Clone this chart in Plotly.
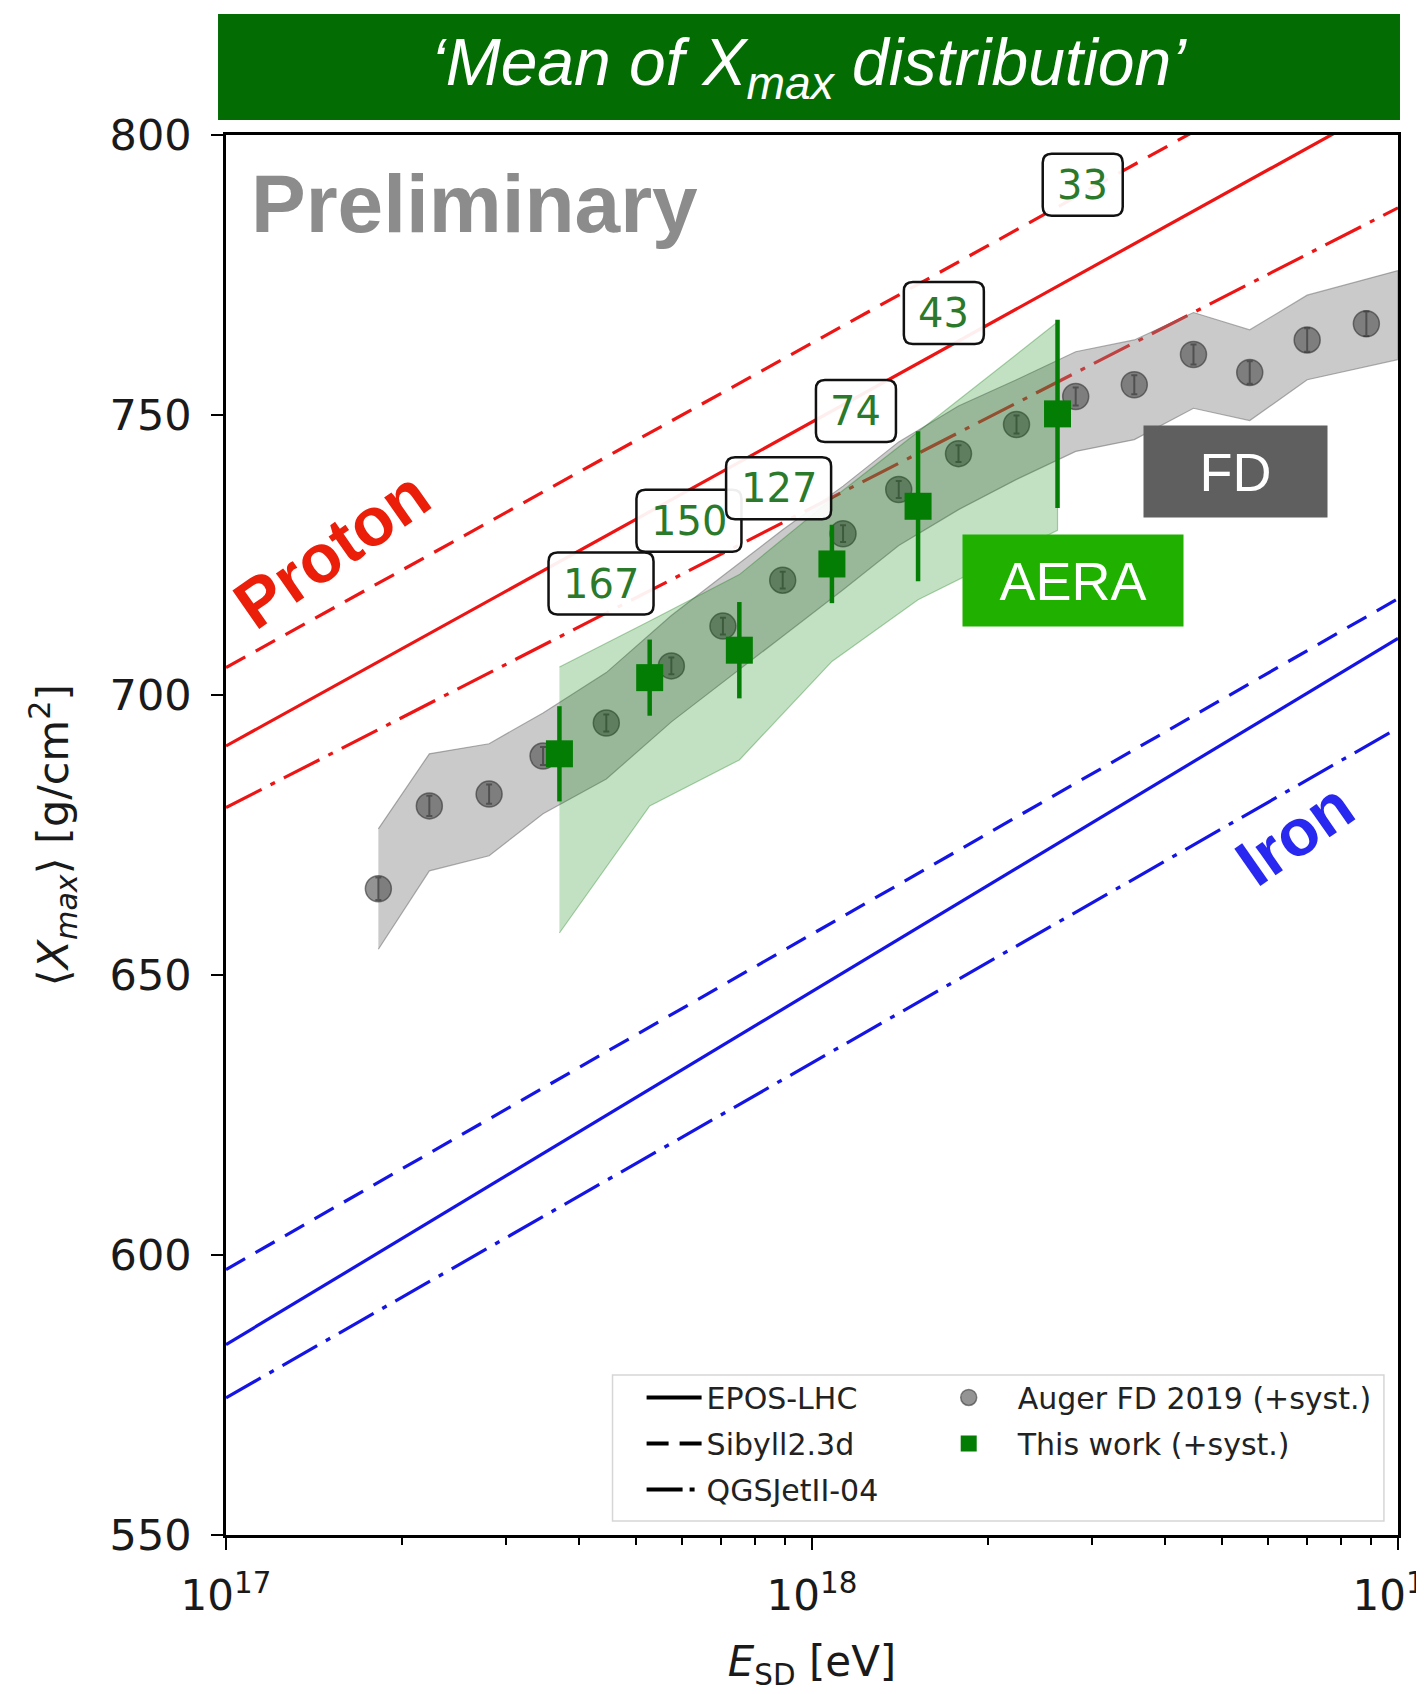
import numpy as np
import plotly.graph_objects as go

# ---------------- data ----------------
# Auger FD 2019 <Xmax>
fd_lgE = [17.26, 17.347, 17.449, 17.541, 17.649, 17.760, 17.848, 17.950, 18.053,
          18.148, 18.250, 18.349, 18.450, 18.550, 18.651, 18.747, 18.845, 18.946]
fd_xmax = [665.4, 680.2, 682.3, 689.1, 695.0, 705.2, 712.3, 720.5, 728.8,
           736.7, 743.1, 748.3, 753.3, 755.4, 760.8, 757.6, 763.4, 766.3]
fd_stat = [2.0, 1.8, 1.7, 1.6, 1.5, 1.5, 1.5, 1.5, 1.5,
           1.5, 1.5, 1.6, 1.6, 1.7, 1.8, 2.0, 2.1, 2.2]
# FD systematic band edges (last edge continues to the axis border)
fd_band_lgE = [17.26, 17.347, 17.449, 17.541, 17.649, 17.760, 17.848, 17.950, 18.053,
               18.148, 18.250, 18.349, 18.450, 18.550, 18.651, 18.747, 18.845, 18.946, 19.0]
fd_band_hi = [676.1, 689.5, 691.3, 696.8, 704.0, 714.2, 721.3, 729.5, 737.3,
              745.2, 751.6, 756.3, 761.3, 763.4, 768.3, 765.2, 771.4, 774.3, 775.8]
fd_band_lo = [654.6, 668.6, 671.3, 678.8, 685.0, 695.2, 702.3, 710.5, 718.8,
              726.7, 733.1, 738.5, 743.5, 745.6, 751.2, 749.0, 756.3, 758.6, 759.9]

# This work (AERA)
aera_lgE = [17.569, 17.723, 17.876, 18.034, 18.181, 18.419]
aera_xmax = [689.5, 703.1, 708.0, 723.4, 733.7, 750.2]
aera_stat = [8.5, 6.8, 8.6, 7.0, 13.4, 16.8]
aera_sys_hi = [705.0, 713.2, 721.5, 735.0, 747.0, 766.6]
aera_sys_lo = [657.5, 680.2, 688.4, 706.0, 717.0, 729.4]
aera_nevents = [167, 150, 127, 74, 43, 33]

# Model predictions (straight lines between these energies)
model_lgE = [17.0, 19.0]
p_epos = [690.9, 806.6]
p_sibyll = [704.9, 820.8]
p_qgsjet = [679.9, 787.0]
fe_epos = [584.0, 710.1]
fe_sibyll = [597.4, 717.2]
fe_qgsjet = [574.5, 694.1]

model_names = ["EPOS-LHC", "Sibyll2.3d", "QGSJetII-04"]

# axis ticks
x_tick_lgE = [17, 18, 19]
x_tick_text = ["10<sup>17</sup>", "10<sup>18</sup>", "10<sup>19</sup>"]
x_minor_lgE = [17 + np.log10(m) for m in range(2, 10)] + [18 + np.log10(m) for m in range(2, 10)]
y_ticks = [550, 600, 650, 700, 750, 800]

# positions of the event-count boxes (layout, data coords: log10 E, Xmax)
box_lgE = [17.640, 17.790, 17.943, 18.075, 18.225, 18.462]
box_y = [719.9, 731.1, 736.9, 750.7, 768.2, 791.1]

# ---------------- styles ----------------
RED = "#ee1414"
BLUE = "#1414e6"
DASHES = ["solid", "22px,12px", "40px,10px,5px,10px"]
LEG_DASHES = ["solid", "22px,11px", "36px,7px,5px,7px"]
TICKFONT = dict(family="DejaVu Sans", size=43, color="#1a1a1a")


def E(lg):
    return [10 ** v for v in lg]


def rounded_box(hw, hh, r):
    return (f"M {-hw + r},{-hh} L {hw - r},{-hh} Q {hw},{-hh} {hw},{-hh + r} "
            f"L {hw},{hh - r} Q {hw},{hh} {hw - r},{hh} L {-hw + r},{hh} "
            f"Q {-hw},{hh} {-hw},{hh - r} L {-hw},{-hh + r} Q {-hw},{-hh} {-hw + r},{-hh} Z")


fig = go.Figure()

# model lines
for ys, col in [((p_epos, p_sibyll, p_qgsjet), RED), ((fe_epos, fe_sibyll, fe_qgsjet), BLUE)]:
    for y, dash in zip(ys, DASHES):
        fig.add_trace(go.Scatter(x=E(model_lgE), y=y, mode="lines",
                                 line=dict(color=col, width=3.2, dash=dash),
                                 showlegend=False, hoverinfo="skip"))

# FD band
fig.add_trace(go.Scatter(x=E(fd_band_lgE) + E(fd_band_lgE[::-1]),
                         y=fd_band_hi + fd_band_lo[::-1],
                         mode="lines", fill="toself",
                         fillcolor="rgba(128,128,128,0.42)",
                         line=dict(color="rgba(110,110,110,0.55)", width=1.2),
                         showlegend=False, hoverinfo="skip"))
# FD points
fig.add_trace(go.Scatter(x=E(fd_lgE), y=fd_xmax, mode="markers",
                         marker=dict(symbol="circle", size=26, color="rgba(75,75,75,0.6)",
                                     line=dict(color="rgba(50,50,50,0.6)", width=1.5)),
                         error_y=dict(type="data", array=fd_stat, visible=True,
                                      color="rgba(40,40,40,0.7)", thickness=2, width=3),
                         showlegend=False))

# AERA band
fig.add_trace(go.Scatter(x=E(aera_lgE) + E(aera_lgE[::-1]),
                         y=aera_sys_hi + aera_sys_lo[::-1],
                         mode="lines", fill="toself",
                         fillcolor="rgba(0,128,0,0.24)",
                         line=dict(color="rgba(0,110,0,0.3)", width=1.2),
                         showlegend=False, hoverinfo="skip"))
# AERA points
fig.add_trace(go.Scatter(x=E(aera_lgE), y=aera_xmax, mode="markers",
                         marker=dict(symbol="square", size=27, color="#037d03"),
                         error_y=dict(type="data", array=aera_stat, visible=True,
                                      color="#037d03", thickness=4.5, width=0),
                         showlegend=False))

# legend entries (black line styles + markers)
for name, dash in zip(model_names, LEG_DASHES):
    fig.add_trace(go.Scatter(x=[None], y=[None], mode="lines", name=name,
                             line=dict(color="black", width=4, dash=dash),
                             legend="legend", legendgroup=name))
fig.add_trace(go.Scatter(x=[None], y=[None], mode="markers", name="Auger FD 2019 (+syst.)",
                         marker=dict(symbol="circle", size=22, color="rgba(90,90,90,0.65)",
                                     line=dict(color="rgba(60,60,60,0.6)", width=1.5)),
                         legend="legend2", legendgroup="fd"))
fig.add_trace(go.Scatter(x=[None], y=[None], mode="markers", name="This work (+syst.)",
                         marker=dict(symbol="square", size=22, color="#037d03"),
                         legend="legend2", legendgroup="aera"))

annotations = []
shapes = []
# event count boxes (rounded frames as pixel-sized shapes, numbers as annotations)
for n, bx, by in zip(aera_nevents, box_lgE, box_y):
    txt = str(n)
    hw = (25 * len(txt) + 30) / 2
    shapes.append(dict(type="path", xref="x", yref="y",
                       xsizemode="pixel", ysizemode="pixel",
                       xanchor=10 ** bx, yanchor=by,
                       path=rounded_box(hw, 31, 9),
                       fillcolor="rgba(255,255,255,0.93)",
                       line=dict(color="#111111", width=2.5), layer="above"))
    annotations.append(dict(x=bx, y=by, xref="x", yref="y", text=txt, showarrow=False,
                            xanchor="center", yanchor="middle",
                            font=dict(family="DejaVu Sans", size=40, color="#2b7a2b")))

# title banner text
annotations.append(dict(x=0.4974, y=1.0486, xref="paper", yref="paper", showarrow=False,
                        text="<i>‘Mean of X<sub>max</sub> distribution’</i>",
                        xanchor="center", yanchor="middle",
                        font=dict(family="Liberation Sans", size=66, color="white")))
# Preliminary
annotations.append(dict(x=0.02, y=0.951, xref="paper", yref="paper", showarrow=False,
                        text="<b>Preliminary</b>", xanchor="left", yanchor="middle",
                        font=dict(family="Liberation Sans", size=82, color="#8c8c8c")))
# AERA / FD tags
annotations.append(dict(x=0.7225, y=0.6818, xref="paper", yref="paper", showarrow=False,
                        text="AERA", xanchor="center", yanchor="middle",
                        bgcolor="#1fb000", width=220, height=91, borderpad=0,
                        font=dict(family="Liberation Sans", size=54, color="white")))
annotations.append(dict(x=0.8615, y=0.7596, xref="paper", yref="paper", showarrow=False,
                        text="FD", xanchor="center", yanchor="middle",
                        bgcolor="#5f5f5f", width=183, height=91, borderpad=0,
                        font=dict(family="Liberation Sans", size=54, color="white")))
# Proton / Iron
annotations.append(dict(x=0.09, y=0.7043, xref="paper", yref="paper", showarrow=False,
                        text="<b>Proton</b>", textangle=-35, xanchor="center", yanchor="middle",
                        font=dict(family="Liberation Sans", size=68, color="#eb1e0a")))
annotations.append(dict(x=0.9115, y=0.501, xref="paper", yref="paper", showarrow=False,
                        text="<b>Iron</b>", textangle=-35, xanchor="center", yanchor="middle",
                        font=dict(family="Liberation Sans", size=66, color="#2828f0")))

shapes += [
    dict(type="rect", xref="paper", yref="paper", x0=-0.0068, x1=1.0017, y0=1.0107, y1=1.0864,
         fillcolor="#036c03", line=dict(width=0), layer="above"),
    dict(type="rect", xref="paper", yref="paper", x0=0.3298, x1=0.988, y0=0.01, y1=0.1143,
         fillcolor="rgba(255,255,255,0.85)", line=dict(color="#d6d6d6", width=1.5), layer="above"),
]

LEGFONT = dict(family="DejaVu Sans", size=30, color="#222222")

fig.update_layout(
    width=1424, height=1694, autosize=False,
    margin=dict(l=218, r=34, t=127, b=167, autoexpand=False),
    plot_bgcolor="white", paper_bgcolor="white",
    annotations=annotations, shapes=shapes,
    legend=dict(x=0.3546, y=0.1168, xanchor="left", yanchor="top",
                bgcolor="rgba(0,0,0,0)", borderwidth=0, font=LEGFONT,
                itemwidth=55, tracegroupgap=4),
    legend2=dict(x=0.5919, y=0.1168, xanchor="left", yanchor="top",
                 bgcolor="rgba(0,0,0,0)", borderwidth=0, font=LEGFONT,
                 itemwidth=88, tracegroupgap=4),
    xaxis=dict(type="log", range=[17, 19], tickmode="array", automargin=False,
               tickvals=E(x_tick_lgE), ticktext=x_tick_text,
               ticks="outside", ticklen=12, tickwidth=2, tickcolor="black",
               ticklabelstandoff=10, ticklabeloverflow="allow",
               showline=True, linecolor="black", linewidth=2.5, mirror=True,
               showgrid=False, zeroline=False, tickfont=dict(TICKFONT, size=42),
               minor=dict(tickmode="array", tickvals=E(x_minor_lgE), ticks="outside",
                          ticklen=7, tickwidth=1.5, tickcolor="black", showgrid=False),
               title=dict(text="<i>E</i><sub>SD</sub> [eV]", standoff=28,
                          font=dict(family="DejaVu Sans", size=42, color="#1a1a1a"))),
    yaxis=dict(range=[550, 800], tickmode="array", tickvals=y_ticks, automargin=False,
               ticks="outside", ticklen=12, tickwidth=2, tickcolor="black",
               ticklabelstandoff=11,
               showline=True, linecolor="black", linewidth=2.5, mirror=True,
               showgrid=False, zeroline=False, tickfont=TICKFONT,
               title=dict(text="⟨<i>X</i><sub><i>max</i></sub>⟩ [g/cm<sup>2</sup>]", standoff=28,
                          font=dict(family="DejaVu Sans", size=43, color="#1a1a1a"))),
)

fig.write_html("out.html")
